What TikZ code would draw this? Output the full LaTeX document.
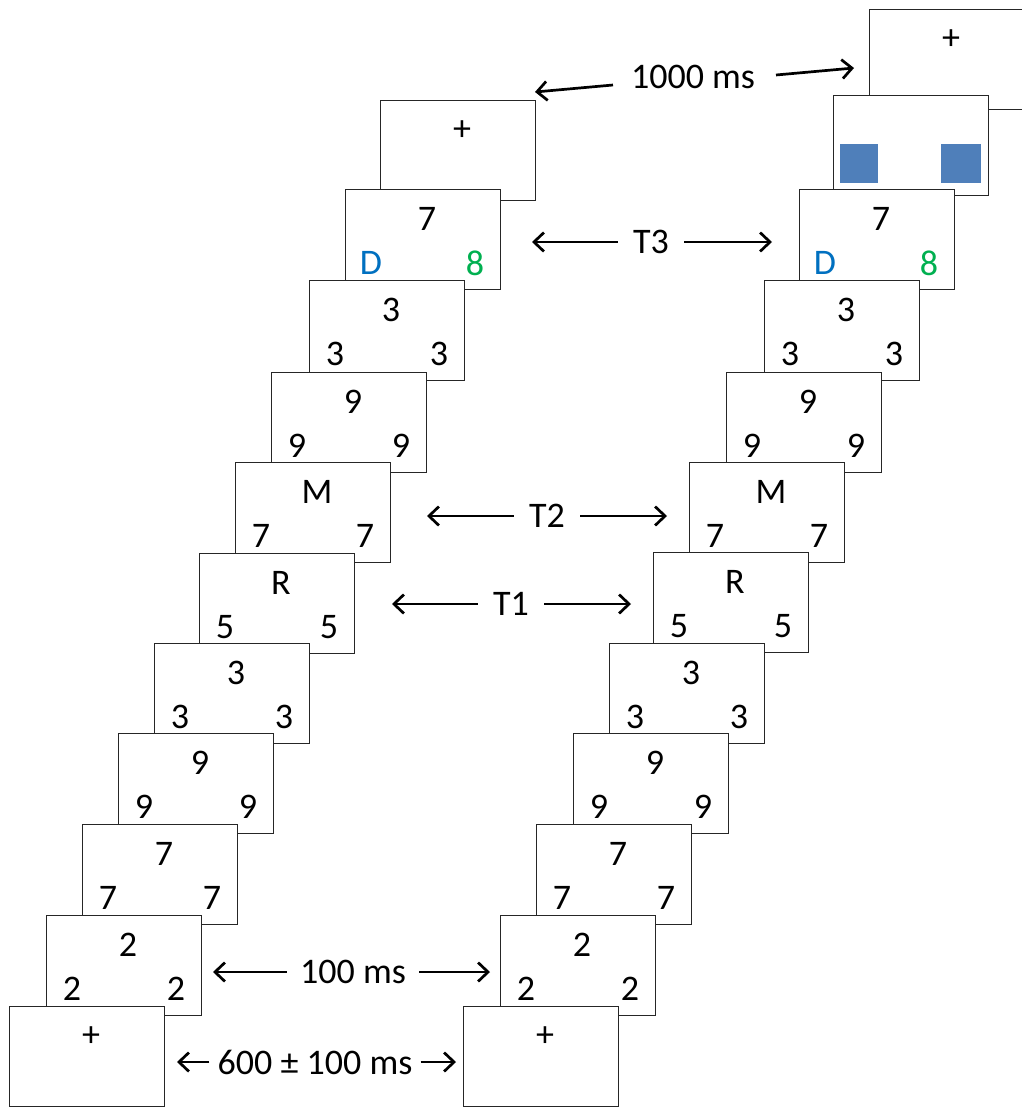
\documentclass[tikz,border=0pt]{standalone}
\usepackage{fontspec}
\setmainfont{Carlito}
\usetikzlibrary{arrows.meta}
\definecolor{dblue}{HTML}{0070C0}
\definecolor{dgreen}{HTML}{00B050}
\definecolor{sqblue}{HTML}{4F7FBA}
\newcommand\fixbox[3]{%
  \node[screen] (#1) at (#2,#3) {};
  \node[lab] (#1-t) at ([shift={(82,31)}]#1.north west) {+};
}
\newcommand\digbox[6]{%
  \node[screen] (#1) at (#2,#3) {};
  \node[lab] (#1-t) at ([shift={(82,30)}]#1.north west) {#4};
  \node[lab] (#1-l) at ([shift={(26,74)}]#1.north west) {#5};
  \node[lab] (#1-r) at ([shift={(130,74)}]#1.north west) {#6};
}
\begin{document}
\begin{tikzpicture}[x=1pt,y=-1pt,
  screen/.style={draw=black!85,line width=1.4pt,fill=white,rectangle,
    minimum width=155pt,minimum height=100pt,anchor=north west,inner sep=0pt},
  lab/.style={font=\fontsize{36}{40}\selectfont,inner sep=0pt,anchor=center},
  tlab/.style={font=\fontsize{36}{40}\selectfont,inner ysep=0pt,inner xsep=15pt,anchor=center},
  arr/.style={line width=2.7pt,-{Straight Barb[length=10pt,width=19pt,line width=2.7pt]}}]
\useasboundingbox (0,0) rectangle (1021,1108);

% left column (top first)
\fixbox{l11}{380}{100}
\digbox{l10}{345}{189}{7}{\textcolor{dblue}{D}}{\textcolor{dgreen}{8}}
\digbox{l9}{309}{280}{3}{3}{3}
\digbox{l8}{271}{372}{9}{9}{9}
\digbox{l7}{235}{462}{M}{7}{7}
\digbox{l6}{199}{553}{R}{5}{5}
\digbox{l5}{154}{643}{3}{3}{3}
\digbox{l4}{118}{733}{9}{9}{9}
\digbox{l3}{82}{824}{7}{7}{7}
\digbox{l2}{46}{915}{2}{2}{2}
\fixbox{l1}{9}{1006}

% right column (top first)
\fixbox{r12}{869}{9}
\node[screen] (r11) at (833,95) {};
\fill[sqblue] ([shift={(7,49)}]r11.north west) rectangle ([shift={(45,88)}]r11.north west);
\fill[sqblue] ([shift={(108,49)}]r11.north west) rectangle ([shift={(148,88)}]r11.north west);
\digbox{r10}{799}{189}{7}{\textcolor{dblue}{D}}{\textcolor{dgreen}{8}}
\digbox{r9}{764}{280}{3}{3}{3}
\digbox{r8}{726}{372}{9}{9}{9}
\digbox{r7}{689}{462}{M}{7}{7}
\digbox{r6}{653}{552}{R}{5}{5}
\digbox{r5}{609}{643}{3}{3}{3}
\digbox{r4}{573}{733}{9}{9}{9}
\digbox{r3}{536}{824}{7}{7}{7}
\digbox{r2}{500}{915}{2}{2}{2}
\fixbox{r1}{463}{1006}

% timing labels and arrows
\node[tlab] (ms1000) at (693,77) {1000 ms};
\coordinate (a1s) at (613,85);
\coordinate (a1e) at (535,92);
\coordinate (a2s) at (776,75);
\coordinate (a2e) at (854,68);
\draw[arr] (a1s) -- (a1e);
\draw[arr] (a2s) -- (a2e);

\node[tlab] (t3) at (651,242) {T3};
\coordinate (t3l) at (532,242);
\coordinate (t3r) at (772,242);
\draw[arr] (t3.west) -- (t3l);
\draw[arr] (t3.east) -- (t3r);

\node[tlab] (t2) at (547,516) {T2};
\coordinate (t2l) at (427,516);
\coordinate (t2r) at (667,516);
\draw[arr] (t2.west) -- (t2l);
\draw[arr] (t2.east) -- (t2r);

\node[tlab] (t1) at (511,604) {T1};
\coordinate (t1l) at (392,604);
\coordinate (t1r) at (631,604);
\draw[arr] (t1.west) -- (t1l);
\draw[arr] (t1.east) -- (t1r);

\node[tlab,inner xsep=13pt] (ms100) at (353,972) {100 ms};
\coordinate (m1l) at (213,972);
\coordinate (m1r) at (490,972);
\draw[arr] (ms100.west) -- (m1l);
\draw[arr] (ms100.east) -- (m1r);

\node[tlab,inner xsep=8pt] (ms600) at (315,1062) {600 ± 100 ms};
\coordinate (m6l) at (177,1062);
\coordinate (m6r) at (456,1062);
\draw[arr] (ms600.west) -- (m6l);
\draw[arr] (ms600.east) -- (m6r);
\end{tikzpicture}
\end{document}
